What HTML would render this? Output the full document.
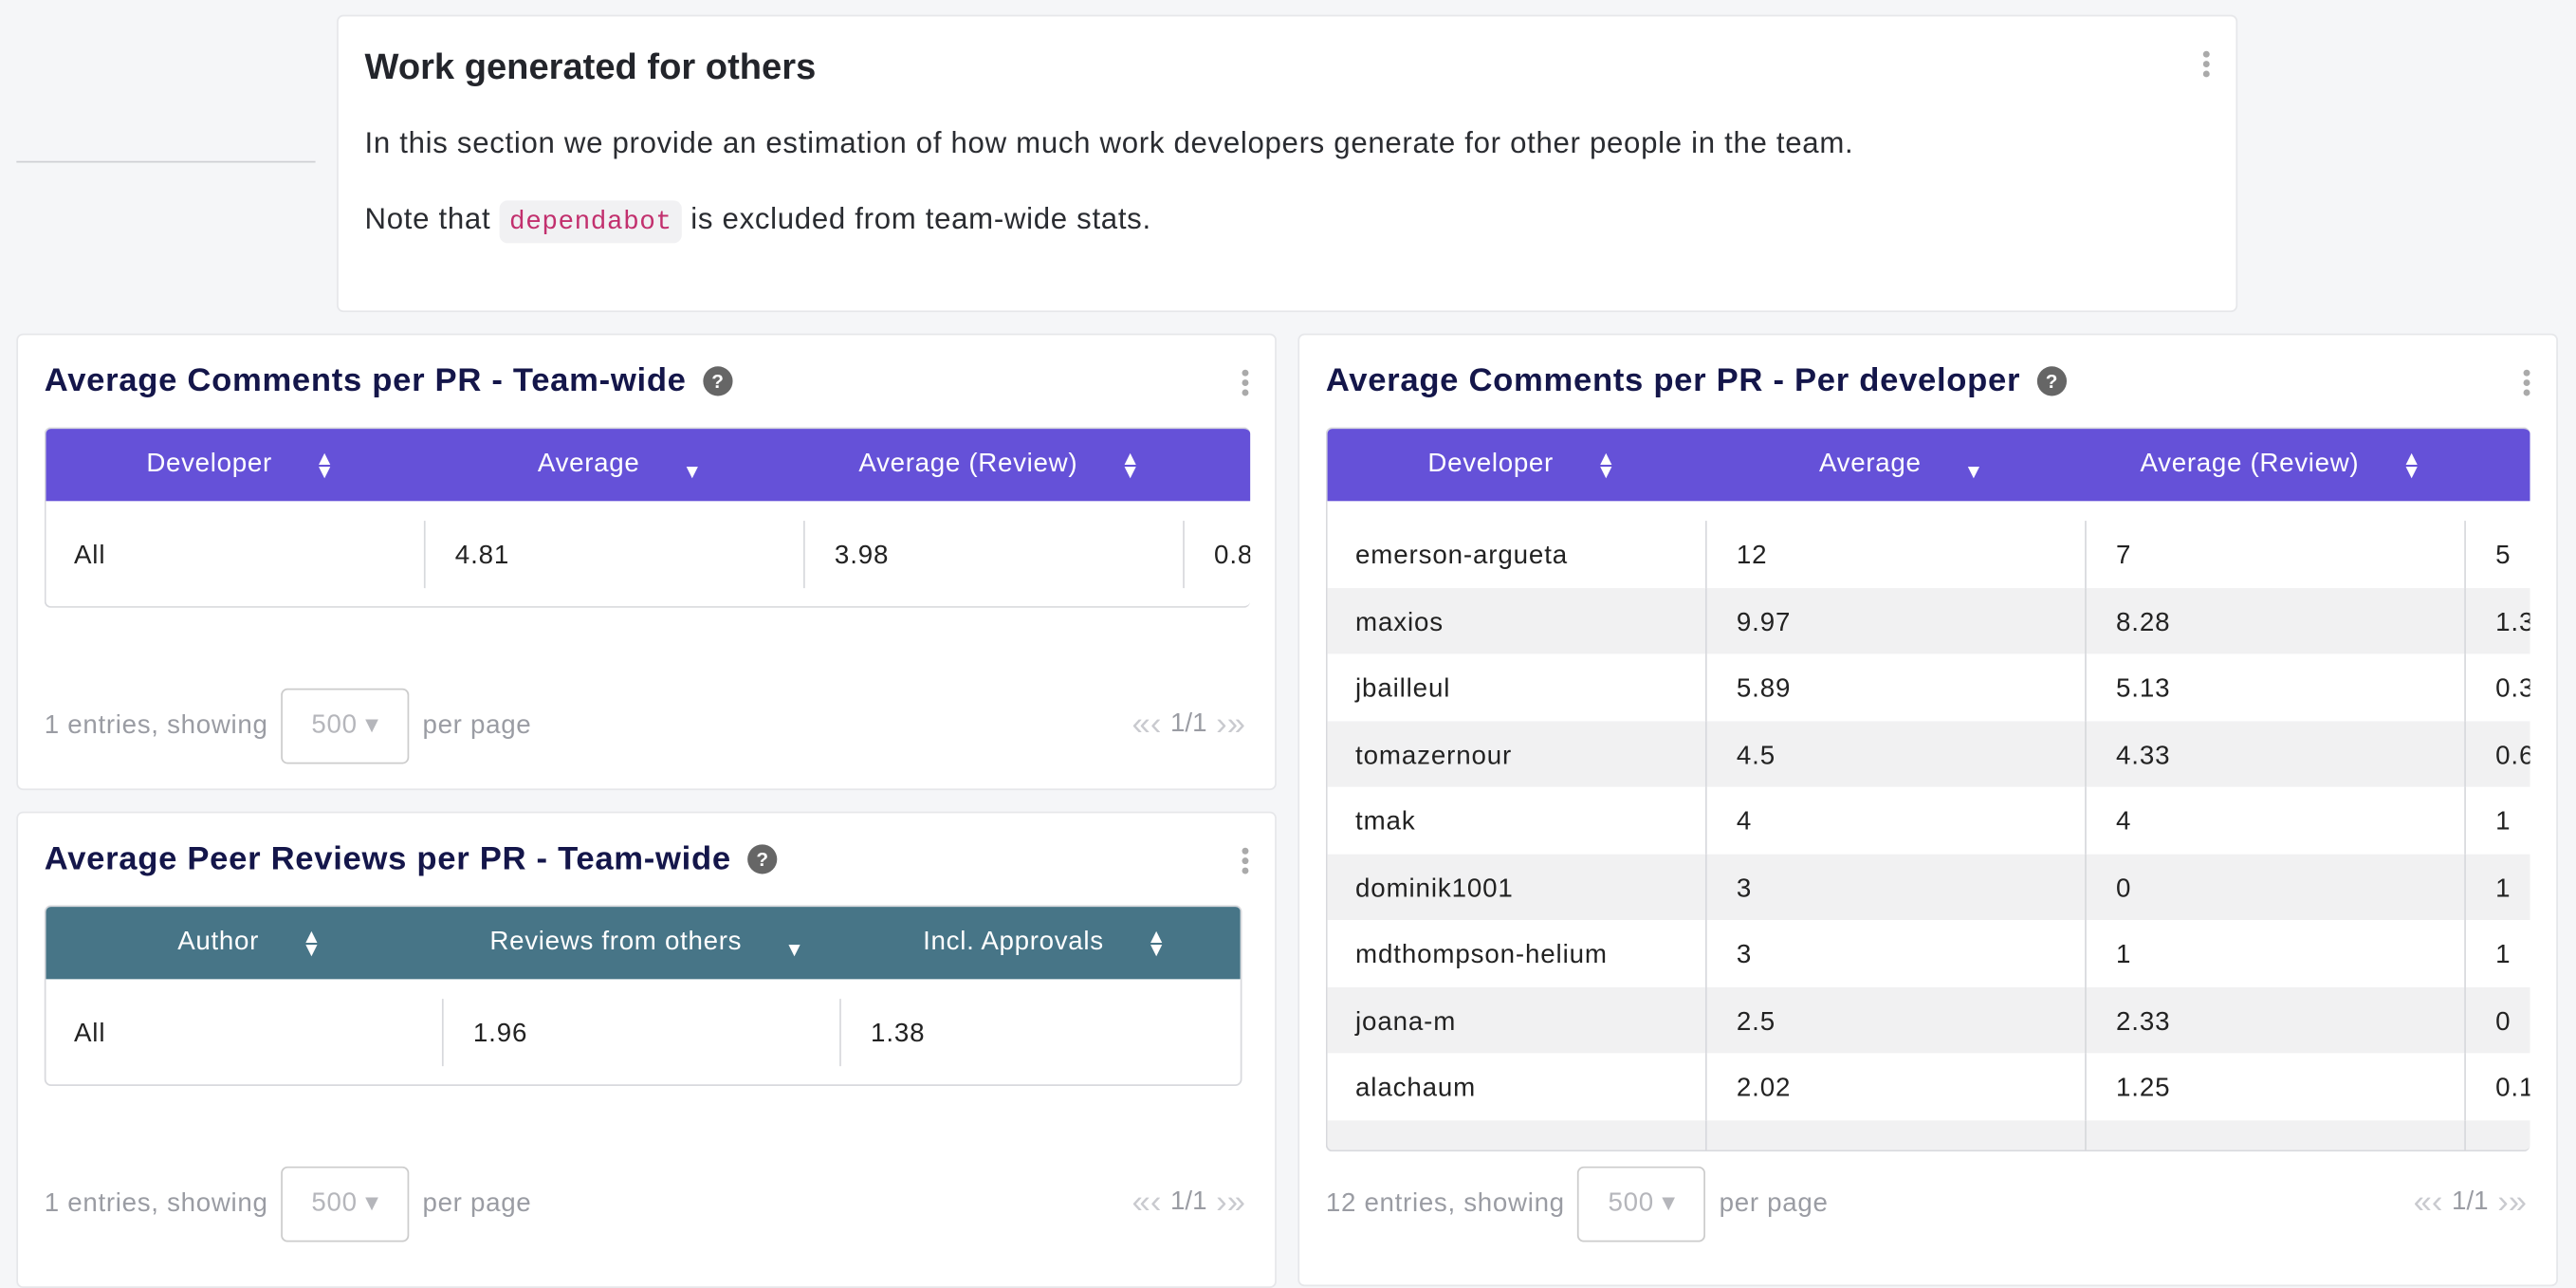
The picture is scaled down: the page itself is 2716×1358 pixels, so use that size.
<!DOCTYPE html>
<html><head><meta charset="utf-8">
<style>
html,body{margin:0;padding:0;background:#f5f6f8;overflow:hidden}
body{width:2716px;height:1330px}
#root{position:absolute;left:0;top:0;width:1568px;height:768px;transform:scale(1.73214);transform-origin:0 0;font-family:"Liberation Sans",sans-serif;color:#222}
.abs{position:absolute}
.card{position:absolute;background:#fff;border:1px solid #e6e7ea;border-radius:4px;box-sizing:border-box;overflow:hidden}
.title{position:absolute;left:16px;font-size:20px;font-weight:bold;color:#14164a;white-space:nowrap;letter-spacing:0.4px}
.help{display:inline-block;width:18px;height:18px;border-radius:50%;background:#666;color:#fff;font-size:12px;line-height:18px;text-align:center;vertical-align:2px;margin-left:10px;letter-spacing:0}
.dots{position:absolute;width:4px}
.dots i{display:block;width:4px;height:4px;border-radius:50%;background:#aaa;margin-bottom:2px}
.tbl{position:absolute;overflow:hidden;border:1px solid #d8d9dd;border-radius:4px;box-sizing:border-box;border-right:none}
.hdr{position:absolute;left:-1px;top:-1px;height:45px;display:flex}
.hdr div{flex:none;box-sizing:border-box;padding-left:8px;color:#fff;font-size:16px;text-align:center;line-height:45px;white-space:nowrap;letter-spacing:0.4px;overflow:hidden}
.si{display:inline-block;font-size:12px;line-height:8px;vertical-align:middle;margin-left:26px}
.row{position:absolute;left:-1px;height:40.5px;display:flex;font-size:16px;letter-spacing:0.5px}
.row div{flex:none;box-sizing:border-box;padding-left:18px;line-height:40.5px;padding-top:2px;white-space:nowrap;border-left:1px solid #d8d9dd;overflow:hidden}
.row div:first-child{border-left:none}
.foot{position:absolute;left:16px;font-size:16px;color:#9a9ca3;white-space:nowrap;letter-spacing:0.4px}
.sel{display:inline-block;width:78px;height:46px;border:1px solid #ccc;border-radius:4px;box-sizing:border-box;text-align:center;line-height:44px;margin:0 8px;vertical-align:middle;color:#b5b6bb}
.pager{position:absolute;right:18px;font-size:20px;color:#c9cacf;white-space:nowrap}
.pager b{font-weight:normal;color:#9a9ca3;font-size:16px;vertical-align:2px}
</style></head><body>
<div id="root">
  <div class="abs" style="left:10px;top:98px;width:182px;height:1px;background:#cfd0d4"></div>

  <div class="card" style="left:205px;top:9px;width:1157px;height:181px">
    <div class="abs" style="left:16px;top:18px;font-size:22px;font-weight:bold;color:#23252b">Work generated for others</div>
    <div class="abs" style="left:16px;top:67px;font-size:18px;letter-spacing:0.4px;color:#2a2c31;white-space:nowrap">In this section we provide an estimation of how much work developers generate for other people in the team.</div>
    <div class="abs" style="left:16px;top:113px;font-size:18px;letter-spacing:0.4px;color:#2a2c31;white-space:nowrap">Note that <span style="font-family:'Liberation Mono',monospace;font-size:16px;letter-spacing:0.3px;color:#c2306e;background:#f1f1f3;border-radius:5px;padding:4px 6px">dependabot</span> is excluded from team-wide stats.</div>
    <div class="dots" style="left:1135px;top:21px"><i></i><i></i><i></i></div>
  </div>

  <div class="card" style="left:10px;top:203px;width:767px;height:278px">
    <div class="title" style="top:17px">Average Comments per PR - Team-wide<span class="help">?</span></div>
    <div class="dots" style="left:745px;top:21px"><i></i><i></i><i></i></div>
    <div class="tbl" id="t1" style="left:16px;top:56px;width:734px;height:110px"></div>
    <div class="foot" style="top:215px">1 entries, showing<span class="sel">500 ▾</span>per page</div>
    <div class="pager" style="top:226px">«‹ <b>1/1</b> ›»</div>
  </div>

  <div class="card" style="left:10px;top:494px;width:767px;height:290px">
    <div class="title" style="top:17px">Average Peer Reviews per PR - Team-wide<span class="help">?</span></div>
    <div class="dots" style="left:745px;top:21px"><i></i><i></i><i></i></div>
    <div class="tbl" id="t2" style="left:16px;top:56px;width:729px;height:110px;border-right:1px solid #d8d9dd"></div>
    <div class="foot" style="top:215px">1 entries, showing<span class="sel">500 ▾</span>per page</div>
    <div class="pager" style="top:226px">«‹ <b>1/1</b> ›»</div>
  </div>

  <div class="card" style="left:790px;top:203px;width:767px;height:580px">
    <div class="title" style="top:17px">Average Comments per PR - Per developer<span class="help">?</span></div>
    <div class="dots" style="left:745px;top:21px"><i></i><i></i><i></i></div>
    <div class="tbl" id="t3" style="left:16px;top:56px;width:733px;height:441px"></div>
    <div class="foot" style="top:506px">12 entries, showing<span class="sel">500 ▾</span>per page</div>
    <div class="pager" style="top:517px">«‹ <b>1/1</b> ›»</div>
  </div>
</div>
<script>
const t1Headers = ["Developer","Average","Average (Review)","Average (Other)"];
const t1Rows = [["All","4.81","3.98","0.83"]];
const t2Headers = ["Author","Reviews from others","Incl. Approvals"];
const t2Rows = [["All","1.96","1.38"]];
const t3Developers = ["emerson-argueta","maxios","jbailleul","tomazernour","tmak","dominik1001","mdthompson-helium","joana-m","alachaum",""];
const t3Average = ["12","9.97","5.89","4.5","4","3","3","2.5","2.02",""];
const t3Review = ["7","8.28","5.13","4.33","4","0","1","2.33","1.25",""];
const t3Other = ["5","1.39","0.36","0.67","1","1","1","0","0.13",""];

function build(el, headers, rows, colW, color, firstTop, stripe){
  const hdr=document.createElement('div');
  hdr.className='hdr';
  
  
  hdr.style.background=color;
  hdr.style.width=(colW*headers.length+2)+'px';
  headers.forEach((h,i)=>{
    const c=document.createElement('div');
    
    
    c.style.width=colW+'px';
    if(i===3) c.style.paddingLeft='90px';
    const ic = i===1 ? '<span class="si" style="vertical-align:-4px">▼</span>' : '<span class="si">▲<br>▼</span>';
    c.innerHTML=h+ic;
    hdr.appendChild(c);
  });
  el.appendChild(hdr);
  rows.forEach((r,ri)=>{
    const row=document.createElement('div');
    row.className='row';
    
    
    row.style.top=(firstTop+ri*40.5)+'px';
    row.style.width=(colW*headers.length+2)+'px';
    if(stripe && ri%2===1) row.style.background='#f1f1f2';
    r.forEach(v=>{
      const c=document.createElement('div');
      
      
      c.style.width=colW+'px';
      c.textContent=v;
      row.appendChild(c);
    });
    el.appendChild(row);
  });
}
build(document.getElementById('t1'), t1Headers, t1Rows, 231, '#6551d8', 56, false);
build(document.getElementById('t2'), t2Headers, t2Rows, 242, '#477587', 56, false);
const t3Rows = t3Developers.map((d,i)=>[d,t3Average[i],t3Review[i],t3Other[i]]);
build(document.getElementById('t3'), t1Headers, t3Rows, 231, '#6551d8', 56, true);
</script>
</body></html>
